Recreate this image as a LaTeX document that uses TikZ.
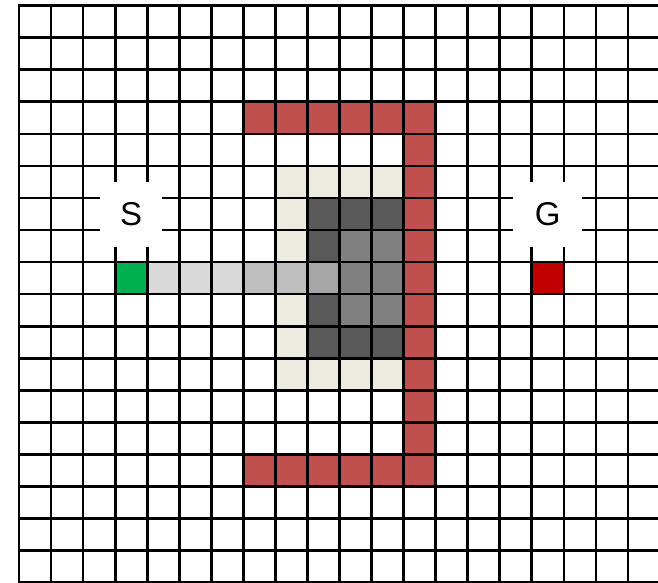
\documentclass[tikz,border=0pt]{standalone}
\usepackage{fontspec}
\setmainfont{Liberation Sans}
\definecolor{wallred}{HTML}{C0504D}
\definecolor{beige}{HTML}{EEECE1}
\definecolor{darkg}{HTML}{595959}
\definecolor{midg}{HTML}{808080}
\definecolor{g6}{HTML}{A6A6A6}
\definecolor{gb}{HTML}{BFBFBF}
\definecolor{gd}{HTML}{D9D9D9}
\definecolor{startgreen}{HTML}{00B050}
\definecolor{goalred}{HTML}{C00000}
\tikzset{
  gridline/.style={line width=2.7pt, black, line cap=rect},
  lbl/.style={fill=white, inner sep=0pt, minimum height=65pt, font=\fontsize{33}{40}\selectfont, text=black},
}
\begin{document}
\begin{tikzpicture}[x=1pt,y=1pt]
\useasboundingbox (0,0) rectangle (658,583);
\clip (0,0) rectangle (658,583);
\fill[white] (0,0) rectangle (658,583);
\begin{scope}[shift={(19,577.3)}, x=32.05pt, y=-32.05pt]
  % wall
  \foreach \i in {7,...,12} {
    \fill[wallred] (\i,3) rectangle ++(1,1);
    \fill[wallred] (\i,14) rectangle ++(1,1);
  }
  \foreach \j in {4,...,13} \fill[wallred] (12,\j) rectangle ++(1,1);
  % beige
  \foreach \i in {8,...,11} {
    \fill[beige] (\i,5) rectangle ++(1,1);
    \fill[beige] (\i,11) rectangle ++(1,1);
  }
  \foreach \j in {6,7,9,10} \fill[beige] (8,\j) rectangle ++(1,1);
  % explored cells
  \foreach \i/\j in {9/6,10/6,11/6,9/7,9/9,9/10,10/10,11/10} \fill[darkg] (\i,\j) rectangle ++(1,1);
  \foreach \i/\j in {10/7,11/7,10/8,11/8,10/9,11/9} \fill[midg] (\i,\j) rectangle ++(1,1);
  \fill[g6] (9,8) rectangle ++(1,1);
  \foreach \i in {7,8} \fill[gb] (\i,8) rectangle ++(1,1);
  \foreach \i in {4,5,6} \fill[gd] (\i,8) rectangle ++(1,1);
  \fill[startgreen] (3,8) rectangle ++(1,1);
  \fill[goalred] (16,8) rectangle ++(1,1);
  % grid
  \foreach \i in {0,...,20} \draw[gridline] (\i,0) -- (\i,18);
  \foreach \j in {0,...,18} \draw[gridline] (0,\j) -- (20,\j);
  % labels
  \node[lbl, minimum width=62pt] (S) at (3.5,6.5) {S};
  \node[lbl, minimum width=69pt] (G) at (16.5,6.5) {G};
\end{scope}
\end{tikzpicture}
\end{document}
